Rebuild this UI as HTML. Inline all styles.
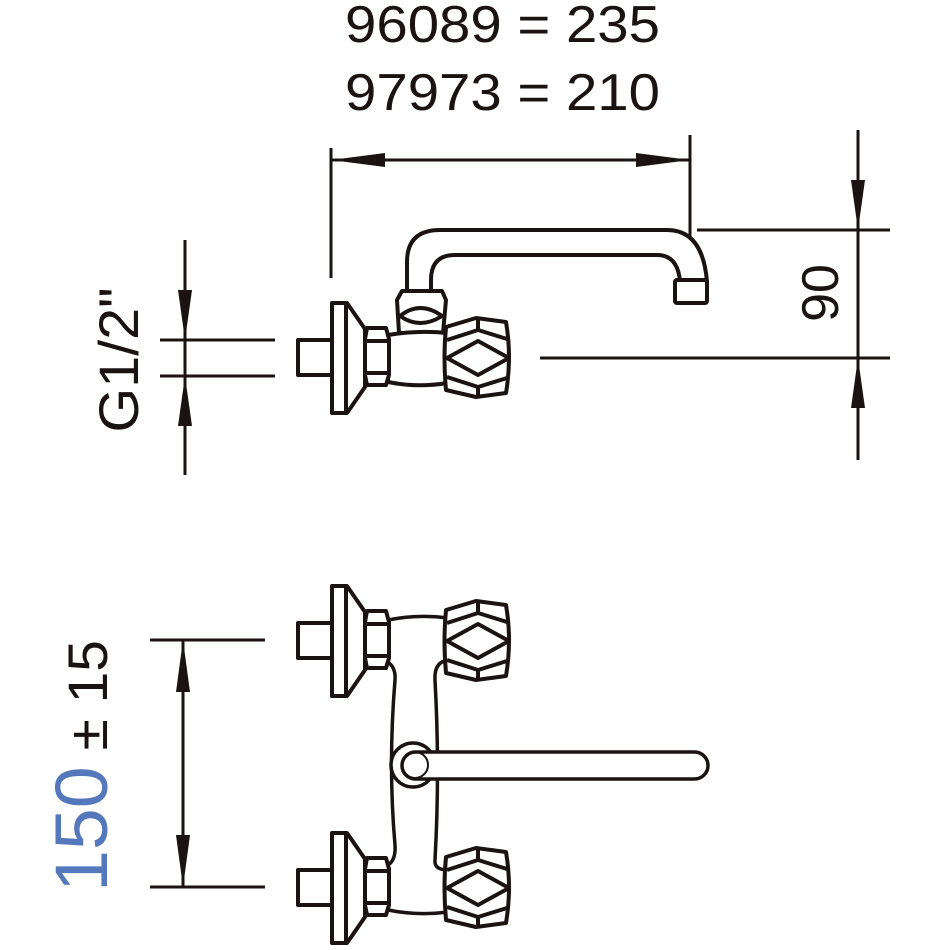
<!DOCTYPE html>
<html><head><style>html,body{margin:0;padding:0;background:#fff}</style></head>
<body>
<svg width="945" height="945" viewBox="0 0 945 945" xmlns="http://www.w3.org/2000/svg">
<defs>
<g id="unit" fill="#fff" stroke="#1a1311" stroke-width="4" stroke-linejoin="round">
  <rect x="298" y="-17" width="34" height="35"/>
  <path d="M344,-54 L347,-54 L365,-28 L365,30 L347,56 L344,56 Z"/>
  <rect x="332" y="-54" width="14" height="110"/>
  <path d="M367,-29 L386,-29 L389,-18 L389,18 L386,28 L367,28 L365,18 L365,-18 Z"/>
  <path d="M366,-16 L388,-16 M366,16 L388,16" fill="none"/>
  <path d="M446,-30 L476,-39 L506,-35 Q512,0 506,36 L476,40 L446,33 Q443,0 446,-30 Z"/>
  <path d="M447,-17 L478,-27 L507,-18 M447,20 L478,30 L507,21 M447,1 L478,-16 L509,1 L478,18 Z M478,-38 L478,-27 M478,30 L478,40" fill="none"/>
</g>
</defs>

<text x="345" y="42" font-family="Liberation Sans, sans-serif" font-size="52" fill="#1a1311" textLength="315" lengthAdjust="spacingAndGlyphs">96089 = 235</text>
<text x="345" y="110" font-family="Liberation Sans, sans-serif" font-size="52" fill="#1a1311" textLength="315" lengthAdjust="spacingAndGlyphs">97973 = 210</text>

<g stroke="#1a1311" stroke-width="3" fill="none">
  <line x1="331" y1="148" x2="331" y2="278"/>
  <line x1="690" y1="135" x2="690" y2="265"/>
  <line x1="331" y1="160" x2="690" y2="160"/>
  <line x1="858" y1="130" x2="858" y2="460"/>
  <line x1="697" y1="230" x2="890" y2="230"/>
  <line x1="540" y1="358" x2="890" y2="358"/>
  <line x1="185" y1="240" x2="185" y2="475"/>
  <line x1="160" y1="340" x2="275" y2="340"/>
  <line x1="160" y1="376" x2="275" y2="376"/>
  <line x1="150" y1="640" x2="265" y2="640"/>
  <line x1="150" y1="887" x2="265" y2="887"/>
  <line x1="183" y1="640" x2="183" y2="887"/>
</g>
<g fill="#1a1311">
  <polygon points="331,160 385,153 385,167"/>
  <polygon points="690,160 636,153 636,167"/>
  <polygon points="858,230 851,180 865,180"/>
  <polygon points="858,358 851,408 865,408"/>
  <polygon points="185,340 178,290 192,290"/>
  <polygon points="185,376 178,426 192,426"/>
  <polygon points="183,640 176,692 190,692"/>
  <polygon points="183,887 176,835 190,835"/>
</g>

<text transform="translate(838,293) rotate(-90)" text-anchor="middle" font-family="Liberation Sans, sans-serif" font-size="52" fill="#1a1311">90</text>
<text transform="translate(138,360) rotate(-90)" text-anchor="middle" font-family="Liberation Sans, sans-serif" font-size="56" fill="#1a1311" textLength="145" lengthAdjust="spacingAndGlyphs">G1/2"</text>
<text transform="translate(107,892) rotate(-90)" font-family="Liberation Sans, sans-serif" font-size="74" fill="#1a1311" textLength="252" lengthAdjust="spacingAndGlyphs"><tspan fill="#5577bb">150</tspan><tspan font-size="56"> ± 15</tspan></text>

<g fill="#fff" stroke="#1a1311" stroke-width="4" stroke-linejoin="round">
  <path d="M407,292 L407,262 Q407,230 440,230 L667,230 Q703,230 707,282 L680,282 Q678,255 657,255 L455,255 Q431,255 431,280 L431,292 Z"/>
  <rect x="675" y="280" width="32" height="23" rx="2"/>
  <path d="M399,333 L397,300 L402,291 L442,291 L446,300 L443,333 Z"/>
  <path d="M400,316 Q420,300 442,316 Q420,330 400,316 Z"/>
  <path d="M388,335 Q418,330 447,333 L447,383 Q418,388 388,382 Z"/>
</g>
<use href="#unit" transform="translate(0,357)"/>

<g fill="#fff" stroke="#1a1311" stroke-width="3.5" stroke-linejoin="round">
  <path d="M388,620 Q418,614 448,618 L448,660 Q434,662 435,680 Q440,770 435,860 Q434,870 448,870 L448,912 Q418,916 388,910 L388,865 Q396,860 395,845 Q388,765 395,680 Q396,668 388,662 Z"/>
  <circle cx="413" cy="765" r="22"/>
  <rect x="402" y="752" width="306" height="27" rx="13.5"/>
  <circle cx="415" cy="765" r="13" fill="none" stroke-width="2"/>
</g>
<use href="#unit" transform="translate(0,640)"/>
<use href="#unit" transform="translate(0,887)"/>
</svg>
</body></html>
